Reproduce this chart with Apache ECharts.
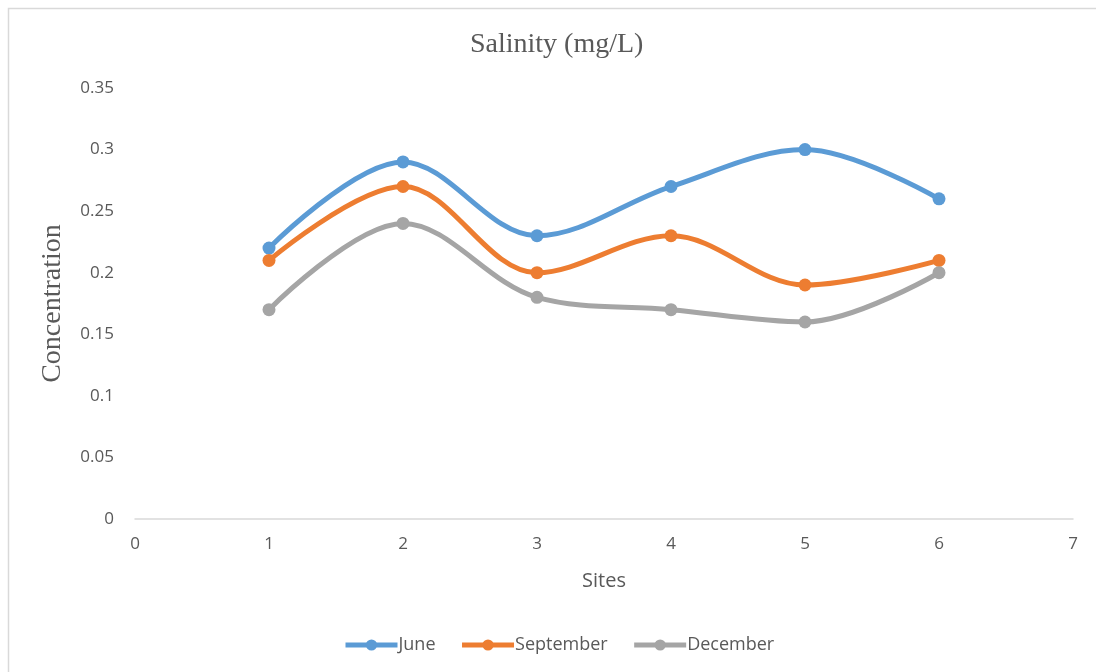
<!DOCTYPE html>
<html>
<head>
<meta charset="utf-8">
<script src="https://cdn.jsdelivr.net/npm/echarts@6/dist/echarts.min.js"></script>
<style>
  html, body { margin: 0; padding: 0; background: #fff; }
  #chart { width: 1096px; height: 672px; }
</style>
</head>
<body>
<div id="chart"></div>
<script>
// Sampling sites and monthly salinity readings (mg/L)
const sites = [1, 2, 3, 4, 5, 6];
const june = [0.22, 0.29, 0.23, 0.27, 0.30, 0.26];
const september = [0.21, 0.27, 0.20, 0.23, 0.19, 0.21];
const december = [0.17, 0.24, 0.18, 0.17, 0.16, 0.20];
const seriesNames = ['June', 'September', 'December'];
const colors = ['#5b9bd5', '#ed7d31', '#a5a5a5'];

const pairs = vals => sites.map((s, i) => [s, vals[i]]);
const textColor = '#595959';
const sans = '"Open Sans", "Liberation Sans", Arial, sans-serif';
const serif = '"Liberation Serif", "Times New Roman", serif';

const chart = echarts.init(document.getElementById('chart'), null, { renderer: 'canvas' });

const makeSeries = (name, vals, color) => ({
  name: name,
  type: 'line',
  data: pairs(vals),
  smooth: 0.35,
  symbol: 'circle',
  symbolSize: 13,
  lineStyle: { width: 5, color: color },
  itemStyle: { color: color },
  emphasis: { disabled: true }
});

chart.setOption({
  animation: false,
  color: colors,
  graphic: [{
    type: 'rect',
    shape: { x: 8.5, y: 8.5, width: 1200, height: 800 },
    style: { fill: 'none', stroke: '#d9d9d9', lineWidth: 1.5 },
    silent: true
  }],
  title: {
    text: 'Salinity (mg/L)',
    left: 465,
    top: 26,
    textStyle: { fontFamily: serif, fontSize: 28, fontWeight: 'normal', color: textColor }
  },
  legend: {
    data: seriesNames,
    bottom: 13,
    left: 338,
    itemWidth: 52,
    itemHeight: 14,
    itemGap: 24,
    lineStyle: { width: 5 },
    textStyle: { fontFamily: sans, fontSize: 18, color: textColor, padding: [0, 0, 0, -4] }
  },
  grid: { left: 135, right: 23, top: 88, bottom: 153, containLabel: false },
  xAxis: {
    type: 'value',
    min: 0,
    max: 7,
    interval: 1,
    name: 'Sites',
    nameLocation: 'middle',
    nameGap: 52,
    nameTextStyle: { fontFamily: sans, fontSize: 20, color: textColor },
    axisLine: { show: true, lineStyle: { color: '#d9d9d9', width: 1.5 } },
    axisTick: { show: false },
    splitLine: { show: false },
    axisLabel: { fontFamily: sans, fontSize: 17, color: textColor, margin: 17 }
  },
  yAxis: {
    type: 'value',
    min: 0,
    max: 0.35,
    interval: 0.05,
    name: 'Concentration',
    nameLocation: 'middle',
    nameGap: 68,
    nameTextStyle: { fontFamily: serif, fontSize: 28, color: textColor },
    axisLine: { show: false },
    axisTick: { show: false },
    splitLine: { show: false },
    axisLabel: {
      fontFamily: sans, fontSize: 17, color: textColor, margin: 21,
      formatter: v => String(parseFloat(v.toFixed(2)))
    }
  },
  series: [
    makeSeries(seriesNames[0], june, colors[0]),
    makeSeries(seriesNames[1], september, colors[1]),
    makeSeries(seriesNames[2], december, colors[2])
  ]
});
</script>
</body>
</html>
